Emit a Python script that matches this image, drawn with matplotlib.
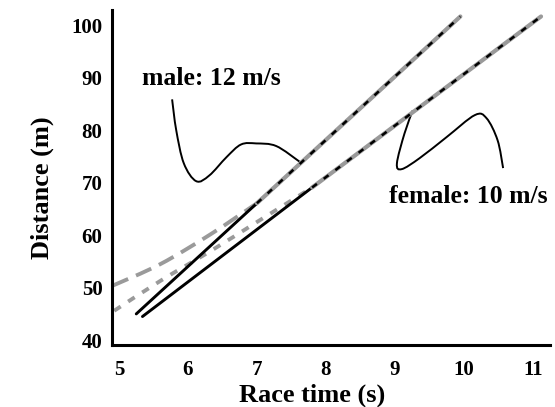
import numpy as np
import matplotlib.pyplot as plt
from matplotlib.path import Path
from matplotlib.patches import PathPatch

# straight-line fits: start, merge point, end
male_t = [5.25, 7.0, 9.95]
male_d = [45.0, 66.1, 101.7]
female_t = [5.34, 7.8, 11.12]
female_d = [44.5, 69.1, 101.7]

# measured curves before they join the fit lines
male_curve_t = [4.91, 5.60, 6.33, 7.0]
male_curve_d = [50.4, 54.5, 60.2, 66.1]
female_curve_t = [4.93, 5.60, 6.33, 7.01, 7.8]
female_curve_d = [45.6, 51.3, 57.0, 62.6, 69.1]

# hand drawn squiggles pointing at the lines
male_sq_t = [5.77, 5.83, 5.94, 6.12, 6.31, 6.56, 6.77, 6.99, 7.28, 7.62]
male_sq_d = [85.9, 80.0, 73.7, 70.3, 71.4, 74.9, 77.3, 77.5, 77.0, 74.0]
female_sq_t = [9.26, 9.14, 9.03, 9.10, 9.36, 9.75, 10.16, 10.33, 10.49, 10.57]
female_sq_d = [83.8, 79.4, 73.7, 72.6, 74.7, 78.7, 82.9, 82.3, 78.1, 72.8]

x_ticks = [5, 6, 7, 8, 9, 10, 11]
y_ticks = [40, 50, 60, 70, 80, 90, 100]

GRAY = '#9a9a9a'
FONT = 'Liberation Serif'


def smooth(xs, ys, **kw):
    # catmull-rom through the points, drawn as cubic bezier segments
    p = np.column_stack([xs, ys]).astype(float)
    pts = [p[0]]
    codes = [Path.MOVETO]
    for i in range(len(p) - 1):
        p0 = p[i - 1] if i > 0 else p[i]
        p3 = p[i + 2] if i + 2 < len(p) else p[i + 1]
        c1 = p[i] + (p[i + 1] - p0) / 6
        c2 = p[i + 1] - (p3 - p[i]) / 6
        pts += [c1, c2, p[i + 1]]
        codes += [Path.CURVE4] * 3
    return PathPatch(Path(pts, codes), fill=False, **kw)


fig = plt.figure(figsize=(5.55, 4.07), dpi=100)
ax = fig.add_axes([0.202, 0.152, 0.789, 0.823])

# gray measured curves (lower part)
ax.add_patch(smooth(male_curve_t, male_curve_d, edgecolor=GRAY, lw=2.8,
                    linestyle=(0, (4.3, 2.2)), capstyle='butt'))
ax.add_patch(smooth(female_curve_t, female_curve_d, edgecolor=GRAY, lw=2.8,
                    linestyle=(0, (2.0, 2.3)), capstyle='butt'))

# fit lines: solid black below the merge, gray with black dashes above
for t, d in [(male_t, male_d), (female_t, female_d)]:
    ax.plot(t[:2], d[:2], color='black', lw=2.1, solid_capstyle='round')
    ax.plot(t[1:], d[1:], color=GRAY, lw=3.0, solid_capstyle='round')
    ax.plot(t[1:], d[1:], color='black', lw=1.8,
            linestyle=(0, (2.4, 3.4)), dash_capstyle='butt')

ax.add_patch(smooth(male_sq_t, male_sq_d, edgecolor='black', lw=1.4))
ax.add_patch(smooth(female_sq_t, female_sq_d, edgecolor='black', lw=1.4))

ax.text(6.34, 89.9, 'male: 12 m/s', fontfamily=FONT, fontweight='bold',
        fontsize=18.5, ha='center', va='center')
ax.text(10.06, 67.4, 'female: 10 m/s', fontfamily=FONT, fontweight='bold',
        fontsize=18.5, ha='center', va='center')

ax.set_xlim(4.9, 11.25)
ax.set_ylim(39.05, 102.9)
ax.set_xticks(x_ticks)
ax.set_yticks(y_ticks)
ax.tick_params(length=0, labelsize=15)
ax.tick_params(axis='x', pad=11)
ax.tick_params(axis='y', pad=7)
for lab in ax.get_xticklabels() + ax.get_yticklabels():
    lab.set_fontfamily(FONT)
    lab.set_fontweight('bold')

ax.set_xlabel('Race time (s)', fontfamily=FONT, fontweight='bold', fontsize=19)
ax.set_ylabel('Distance (m)', fontfamily=FONT, fontweight='bold', fontsize=19)
ax.xaxis.set_label_coords(0.457, -0.115)
ax.yaxis.set_label_coords(-0.133, 0.47)

for s in ['top', 'right']:
    ax.spines[s].set_visible(False)
for s in ['left', 'bottom']:
    ax.spines[s].set_linewidth(2.2)

fig.savefig('out.png', dpi=100)
